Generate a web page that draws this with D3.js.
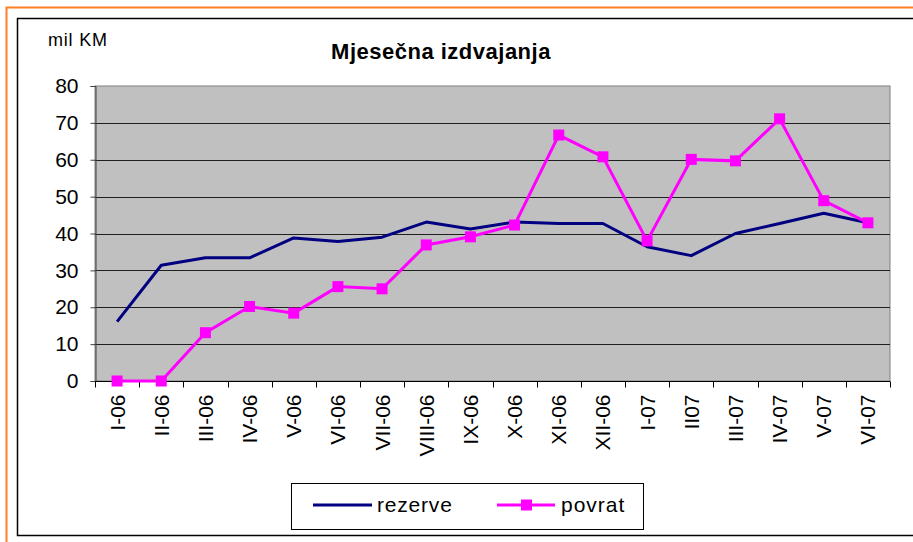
<!DOCTYPE html>
<html lang="bs">
<head>
    <meta charset="UTF-8"/>
    <title>Mjesečna izdvajanja</title>
    <script src="https://d3js.org/d3.v7.min.js"></script>
    <style>
        body { margin: 0; background: #fff; }
        text { font-family: "Liberation Sans", Arial, sans-serif; }
    </style>
</head>
<body>
<div id="chart"></div>
<script>
    // data
    const months = ["I-06", "II-06", "III-06", "IV-06", "V-06", "VI-06", "VII-06", "VIII-06", "IX-06",
        "X-06", "XI-06", "XII-06", "I-07", "II07", "III-07", "IV-07", "V-07", "VI-07"];
    const rezerve = [16.1, 31.4, 33.4, 33.4, 38.8, 37.8, 39.0, 43.1, 41.2, 43.1, 42.7, 42.7, 36.4, 34.0, 40.0, 42.7, 45.5, 42.9];
    const povrat = [0, 0, 13.1, 20.2, 18.4, 25.6, 25.0, 36.9, 39.1, 42.3, 66.7, 60.8, 38.0, 60.1, 59.7, 71.1, 48.9, 42.9];
    const yTicks = [0, 10, 20, 30, 40, 50, 60, 70, 80];

    const W = 913, H = 542;
    const plot = {left: 95, top: 86, right: 890, bottom: 381};

    const svg = d3.select("#chart").append("svg")
        .attr("width", W)
        .attr("height", H);

    // outer frames
    svg.append("path")
        .attr("d", "M6.5," + H + "V7.5H" + W)
        .attr("fill", "none").attr("stroke", "#ff7f27").attr("stroke-width", 2);
    svg.append("rect")
        .attr("x", 17.5).attr("y", 18.5).attr("width", W).attr("height", 517)
        .attr("fill", "#fff").attr("stroke", "#000").attr("stroke-width", 1.5);

    const x = d3.scaleBand()
        .domain(months)
        .range([plot.left, plot.right]);
    const y = d3.scaleLinear()
        .domain([0, 80])
        .range([plot.bottom, plot.top]);

    // plot background
    svg.append("rect")
        .attr("x", plot.left).attr("y", plot.top)
        .attr("width", plot.right - plot.left).attr("height", plot.bottom - plot.top)
        .attr("fill", "#c0c0c0").attr("stroke", "#808080");

    // gridlines
    svg.append("g").selectAll("line")
        .data(yTicks.filter(d => d > 0 && d < 80))
        .join("line")
        .attr("x1", plot.left).attr("x2", plot.right)
        .attr("y1", d => Math.round(y(d)) + 0.5).attr("y2", d => Math.round(y(d)) + 0.5)
        .attr("stroke", "#202020");

    // Y axis
    const yAxis = svg.append("g")
        .attr("transform", "translate(" + (plot.left + 0.5) + ",0)")
        .call(d3.axisLeft(y).tickValues(yTicks).tickSize(5).tickPadding(12));
    yAxis.select(".domain").attr("stroke", "#404040");
    yAxis.selectAll(".tick line").attr("stroke", "#404040");
    yAxis.selectAll("text").attr("font-size", 21).attr("fill", "#000")
        .attr("font-family", "Liberation Sans, Arial, sans-serif");

    // X axis: ticks on category boundaries
    const xAxis = svg.append("g")
        .attr("transform", "translate(0," + (plot.bottom + 0.5) + ")");
    xAxis.append("line")
        .attr("x1", plot.left).attr("x2", plot.right)
        .attr("stroke", "#000");
    xAxis.selectAll(".tk")
        .data(months.concat(["end"]))
        .join("line")
        .attr("x1", (d, i) => Math.round(plot.left + i * x.step()) + 0.5)
        .attr("x2", (d, i) => Math.round(plot.left + i * x.step()) + 0.5)
        .attr("y1", 0).attr("y2", 6)
        .attr("stroke", "#000");
    xAxis.selectAll(".lbl")
        .data(months)
        .join("text")
        .attr("transform", d => "translate(" + (x(d) + x.bandwidth() / 2 + 7.5) + ",13) rotate(-90)")
        .attr("text-anchor", "end")
        .attr("font-size", 21)
        .text(d => d);

    // lines
    const line = d3.line()
        .x((d, i) => x(months[i]) + x.bandwidth() / 2)
        .y(d => y(d));

    svg.append("path")
        .datum(rezerve)
        .attr("fill", "none")
        .attr("stroke", "#000080")
        .attr("stroke-width", 3)
        .attr("stroke-linejoin", "round")
        .attr("d", line);

    svg.append("path")
        .datum(povrat)
        .attr("fill", "none")
        .attr("stroke", "#ff00ff")
        .attr("stroke-width", 3)
        .attr("d", line);

    svg.append("g").selectAll("rect")
        .data(povrat)
        .join("rect")
        .attr("x", (d, i) => x(months[i]) + x.bandwidth() / 2 - 5.5)
        .attr("y", d => y(d) - 5.5)
        .attr("width", 11).attr("height", 11)
        .attr("fill", "#ff00ff");

    // titles
    svg.append("text")
        .attr("x", 441).attr("y", 59)
        .attr("text-anchor", "middle")
        .attr("font-size", 22).attr("font-weight", "bold")
        .attr("letter-spacing", 0.5)
        .text("Mjesečna izdvajanja");
    svg.append("text")
        .attr("x", 48).attr("y", 46)
        .attr("font-size", 18).attr("letter-spacing", 0.8)
        .text("mil KM");

    // legend
    const lg = svg.append("g");
    lg.append("rect")
        .attr("x", 291.5).attr("y", 483.5).attr("width", 352).attr("height", 46)
        .attr("fill", "#fff").attr("stroke", "#000");
    lg.append("line")
        .attr("x1", 313).attr("x2", 372).attr("y1", 505).attr("y2", 505)
        .attr("stroke", "#000080").attr("stroke-width", 3);
    lg.append("text")
        .attr("x", 377).attr("y", 512)
        .attr("font-size", 21).attr("letter-spacing", 0.8)
        .text("rezerve");
    lg.append("line")
        .attr("x1", 497).attr("x2", 555).attr("y1", 505).attr("y2", 505)
        .attr("stroke", "#ff00ff").attr("stroke-width", 3);
    lg.append("rect")
        .attr("x", 521).attr("y", 499.5).attr("width", 11).attr("height", 11)
        .attr("fill", "#ff00ff");
    lg.append("text")
        .attr("x", 561).attr("y", 512)
        .attr("font-size", 21).attr("letter-spacing", 1)
        .text("povrat");
</script>
</body>
</html>
